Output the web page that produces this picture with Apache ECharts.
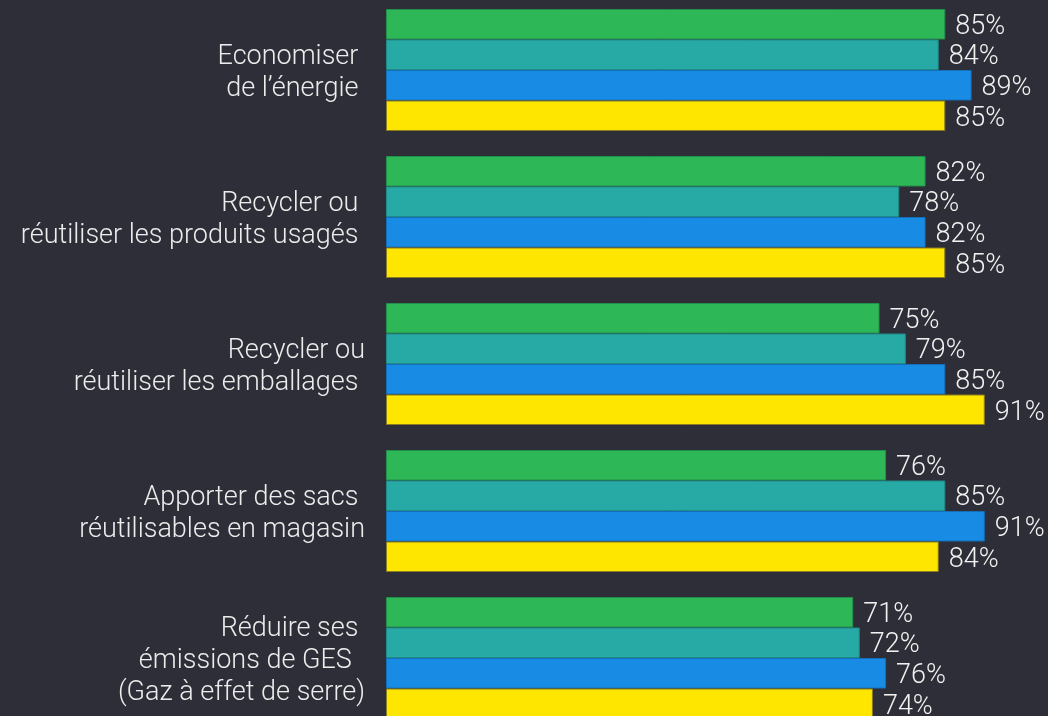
<!DOCTYPE html>
<html><head><meta charset="utf-8">
<script src="https://cdn.jsdelivr.net/npm/echarts@6/dist/echarts.min.js"></script>
<style>html,body{margin:0;padding:0;background:#2e2e38;overflow:hidden;}#c{width:1048px;height:740px;margin-top:-4px;}</style>
</head><body><div id="c"></div>
<script>
const categories = [
  "Economiser \nde l’énergie ",
  "Recycler ou \nréutiliser les produits usagés ",
  "Recycler ou\nréutiliser les emballages ",
  "Apporter des sacs \nréutilisables en magasin",
  "Réduire ses \némissions de GES  \n(Gaz à effet de serre)"
];
const seriesA = [85, 82, 75, 76, 71];
const seriesB = [84, 78, 79, 85, 72];
const seriesC = [89, 82, 85, 91, 76];
const seriesD = [85, 85, 91, 84, 74];
const colors = ["#2db757", "#27aaa5", "#188ce5", "#ffe600"];
const borders = ["#23914a", "#1f8a86", "#146fb8", "#8a7d20"];

const chart = echarts.init(document.getElementById('c'));
const mk = (name, data, i) => ({
  name, type: 'bar', data,
  barGap: '0%', barCategoryGap: '17%',
  itemStyle: { color: colors[i], borderColor: borders[i], borderWidth: 1 },
  label: { show: true, position: 'right', distance: 10, offset: [0, 3], formatter: '{c}%',
    color: '#f2f2f2', fontSize: 27, fontFamily: 'Roboto', fontWeight: 300 }
});
chart.setOption({
  backgroundColor: '#2e2e38',
  animation: false,
  grid: [
    { left: 386, width: 658, top: 0.5, height: 735 },
    { left: 386, width: 658, top: 4, height: 735 }
  ],
  xAxis: [
    { type: 'value', min: 0, max: 100, show: false, gridIndex: 0 },
    { type: 'value', min: 0, max: 100, show: false, gridIndex: 1 }
  ],
  yAxis: [
    { type: 'category', data: categories, inverse: true, gridIndex: 0,
      axisLine: { show: false }, axisTick: { show: false }, axisLabel: { show: false } },
    { type: 'category', data: categories, inverse: true, gridIndex: 1,
      axisLine: { show: false }, axisTick: { show: false },
      axisLabel: { margin: 21, color: '#ececec', fontSize: 27, lineHeight: 32,
        fontFamily: 'Roboto', fontWeight: 300, align: 'right' } }
  ],
  series: [mk('A', seriesA, 0), mk('B', seriesB, 1), mk('C', seriesC, 2), mk('D', seriesD, 3)]
});
</script></body></html>
